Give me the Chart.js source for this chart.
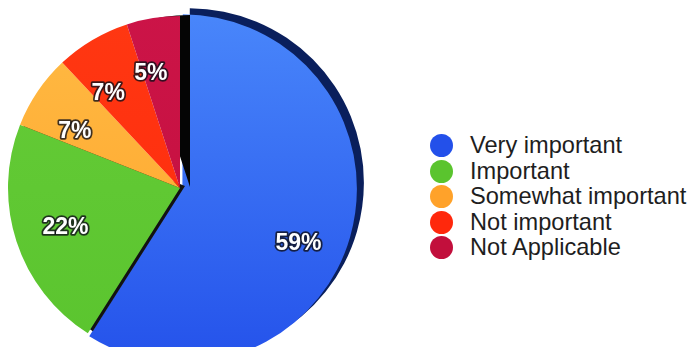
<!DOCTYPE html>
<html>
<head>
<meta charset="utf-8">
<script src="https://cdn.jsdelivr.net/npm/chart.js@4"></script>
<style>
  html, body { margin: 0; padding: 0; background: #fff; overflow: hidden; }
  body { width: 697px; height: 347px; position: relative; }
  #pieBox { position: absolute; left: 0; top: 0; width: 400px; height: 376px; }
  #legend { position: absolute; left: 430px; top: 133px; margin: 0; padding: 0; list-style: none;
            font-family: "Liberation Sans", Arial, Helvetica, sans-serif; font-size: 23.6px; color: #1e1e1e; }
  #legend li { height: 25.6px; line-height: 25.6px; white-space: nowrap; position: relative; padding-left: 40px; }
  #legend li span { position: absolute; left: 0; top: 1px; width: 23px; height: 23px; border-radius: 50%; }
</style>
</head>
<body>
<div id="pieBox"><canvas id="pieChart"></canvas></div>
<ul id="legend"></ul>
<script>
// Data
const categories = ['Very important', 'Important', 'Somewhat important', 'Not important', 'Not Applicable'];
const shares = [59, 22, 7, 7, 5];

// Styles
const sliceColors = ['#2350ea', '#5ac42e', '#ffa22a', '#ff280c', '#c20f3c'];
const sliceColorsLight = ['#4a88fb', '#66cc38', '#ffbb44', '#ff3812', '#cc1448'];
const sliceOffsets = [10, 0, 0, 0, 0];
// extruded edge per slice: colour, dx, dy
const sliceEdges = [
    ['#0a1f5c', 7, -6],
    ['#121212', 5, -2],
    ['rgba(0,0,0,0)', 0, 0],
    ['rgba(0,0,0,0)', 0, 0],
    ['#050505', 10, -1]
];
const labelTurn = [9, 0, -5, -6, -5]; // degrees, small nudge of each label

// legend on the right
const legend = document.getElementById('legend');
categories.forEach((name, i) => {
    const li = document.createElement('li');
    const dot = document.createElement('span');
    dot.style.background = sliceColors[i];
    li.appendChild(dot);
    li.appendChild(document.createTextNode(name));
    legend.appendChild(li);
});

// gradient fill per slice, lighter at the top
function sliceFill(context) {
    const i = context.dataIndex;
    const chart = context.chart;
    const area = chart.chartArea;
    if (!area) return sliceColors[i];
    const g = chart.ctx.createLinearGradient(0, area.top, 0, area.bottom);
    g.addColorStop(0, sliceColorsLight[i]);
    g.addColorStop(1, sliceColors[i]);
    return g;
}

// draw each arc with its own dark edge (shadow) behind it
const sliceEdge = {
    id: 'sliceEdge',
    beforeDatasetDraw(chart, args) {
        const ctx = chart.ctx;
        args.meta.data.forEach((arc, i) => {
            ctx.save();
            ctx.shadowColor = sliceEdges[i][0];
            ctx.shadowOffsetX = sliceEdges[i][1];
            ctx.shadowOffsetY = sliceEdges[i][2];
            ctx.shadowBlur = 0;
            arc.draw(ctx, chart.chartArea);
            ctx.restore();
        });
        return false;
    }
};

// percentage labels inside each slice
const sliceLabels = {
    id: 'sliceLabels',
    afterDatasetsDraw(chart) {
        const ctx = chart.ctx;
        const meta = chart.getDatasetMeta(0);
        ctx.save();
        ctx.font = 'bold 23px "Liberation Sans", Arial, sans-serif';
        ctx.textAlign = 'center';
        ctx.textBaseline = 'middle';
        ctx.lineJoin = 'round';
        meta.data.forEach((arc, i) => {
            const p = arc.getProps(['x', 'y', 'startAngle', 'endAngle', 'outerRadius'], true);
            const mid = (p.startAngle + p.endAngle) / 2;
            const ang = mid + labelTurn[i] * Math.PI / 180;
            const ox = Math.cos(mid) * sliceOffsets[i];
            const oy = Math.sin(mid) * sliceOffsets[i];
            const r = p.outerRadius * 0.7;
            const x = p.x + ox + Math.cos(ang) * r;
            const y = p.y + oy + Math.sin(ang) * r + 2;
            const text = shares[i] + '%';
            ctx.strokeStyle = 'rgba(15,15,25,0.8)';
            ctx.lineWidth = 3.5;
            ctx.strokeText(text, x, y);
            ctx.fillStyle = '#ffffff';
            ctx.fillText(text, x, y);
        });
        ctx.restore();
    }
};

new Chart(document.getElementById('pieChart'), {
    type: 'pie',
    data: {
        labels: categories,
        datasets: [{
            data: shares,
            backgroundColor: sliceFill,
            borderWidth: 0,
            offset: sliceOffsets,
            hoverOffset: 0
        }]
    },
    options: {
        responsive: true,
        maintainAspectRatio: false,
        animation: false,
        radius: 172,
        layout: { padding: { left: 0, top: 0, right: 40, bottom: 0 } },
        plugins: {
            legend: { display: false },
            tooltip: { enabled: false }
        },
        events: []
    },
    plugins: [sliceEdge, sliceLabels]
});
</script>
</body>
</html>
